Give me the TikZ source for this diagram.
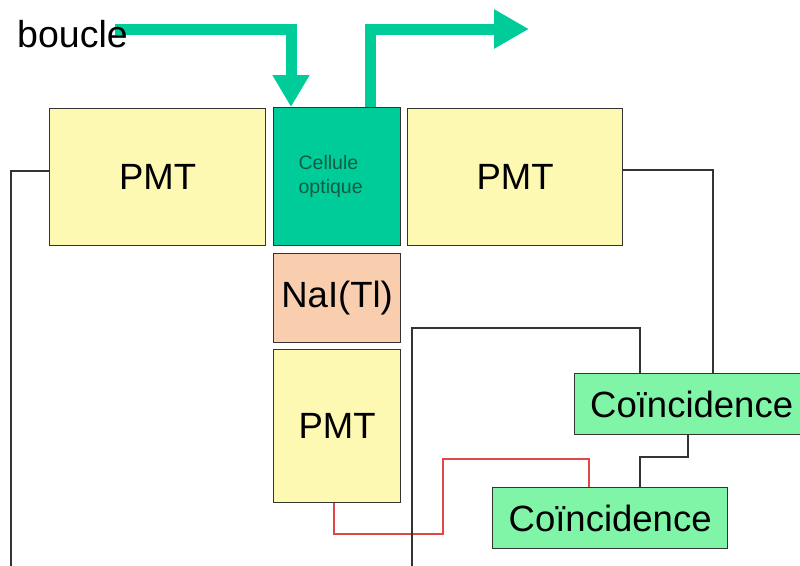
\documentclass[tikz,border=0pt]{standalone}
\usepackage{fontspec}
\setmainfont{Liberation Sans}
\usetikzlibrary{arrows.meta}
\definecolor{pmtyellow}{HTML}{FDF8B2}
\definecolor{cellteal}{HTML}{00CC99}
\definecolor{naipeach}{HTML}{F9CEAE}
\definecolor{coingreen}{HTML}{80F5A8}
\definecolor{edge}{HTML}{333333}
\definecolor{celltext}{HTML}{115A44}
\definecolor{wirered}{HTML}{E04848}
\begin{document}
\begin{tikzpicture}[x=1pt,y=-1pt,
 box/.style={draw=edge,line width=1.3pt,inner sep=0pt,anchor=north west,font=\fontsize{36.5}{40}\selectfont},
 wire/.style={draw=edge,line width=1.4pt},
 redwire/.style={draw=wirered,line width=1.4pt},
 flow/.style={draw=cellteal,line width=11pt,line join=miter}]
\clip (0,0) rectangle (800,565);
\fill[white] (0,0) rectangle (800,565);

% boxes
\node[box,fill=pmtyellow,minimum width=216pt,minimum height=137pt] (pmtL) at (49,108) {PMT};
\node[box,fill=cellteal,minimum width=127pt,minimum height=138pt,text width=77pt,inner xsep=25pt,align=left,
      font=\fontsize{19.5}{24}\selectfont,text=celltext] (cell) at (273,107) {Cellule\\optique};
\node[box,fill=pmtyellow,minimum width=215pt,minimum height=137pt] (pmtR) at (407,108) {PMT};
\node[box,fill=naipeach,minimum width=127pt,minimum height=89pt] (nai) at (273,253) {NaI(Tl)};
\node[box,fill=pmtyellow,minimum width=127pt,minimum height=153pt] (pmtB) at (273,349) {PMT};
\node[box,fill=coingreen,minimum width=234pt,minimum height=61pt] (coA) at (574,373) {Coïncidence};
\node[box,fill=coingreen,minimum width=235pt,minimum height=61pt] (coB) at (492,487) {Coïncidence};

% teal flow arrows
\draw[flow,-{Triangle[width=35pt,length=32pt]}] (115,29) -| (cell.north -| 291,0);
\draw[flow,-{Triangle[width=37pt,length=35pt]}] (cell.north -| 370,0) |- (529,29);

% wires
\draw[redwire] (pmtB.south -| 334,0) |- (443,534) |- (589,459) -- (coB.north -| 589,0);
\draw[wire] (pmtL.west |- 0,171) -| (11,566);
\draw[wire] (pmtR.east |- 0,170) -| (coA.north -| 713,0);
\draw[wire] (412,566) |- (640,328) -- (coA.north -| 640,0);
\draw[wire] (coA.south -| 688,0) |- (640,457) -- (coB.north -| 640,0);

\node[anchor=base west,inner sep=0pt,font=\fontsize{37.5}{40}\selectfont] (boucle) at (17,47) {boucle};
\end{tikzpicture}
\end{document}
